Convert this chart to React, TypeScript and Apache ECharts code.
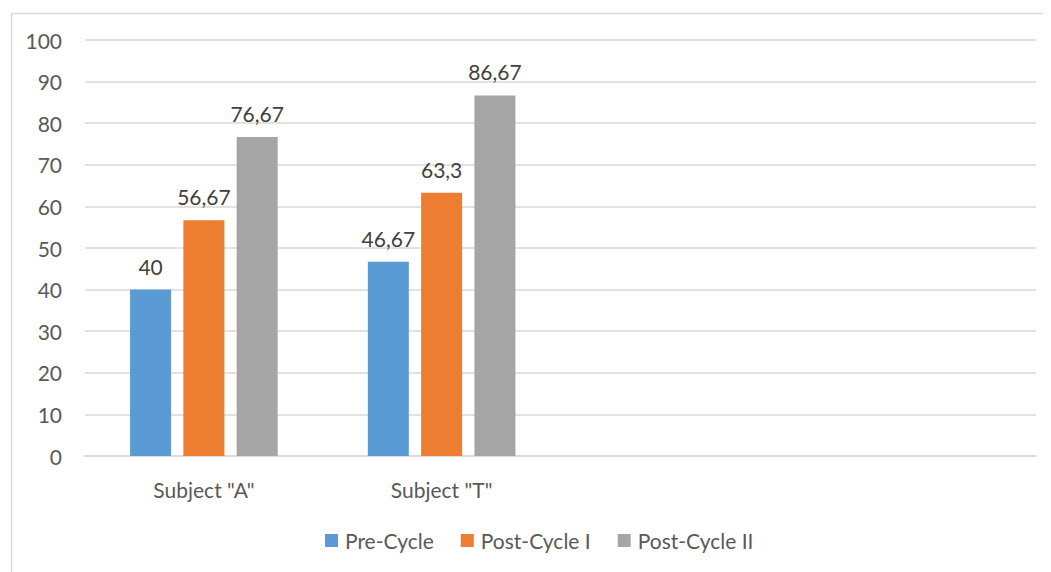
import React, { useEffect, useRef } from "react";
import * as echarts from "echarts";

const categories = ['Subject "A"', 'Subject "T"', "", ""];
const seriesNames = ["Pre-Cycle", "Post-Cycle I", "Post-Cycle II"];
const preCycle = [40, 46.67, null, null];
const postCycle1 = [56.67, 63.3, null, null];
const postCycle2 = [76.67, 86.67, null, null];
const colors = ["#5B9BD5", "#ED7D31", "#A5A5A5"];

const FONT = "Lato, 'Open Sans', sans-serif";
const FS = 21;

export default function App() {
  const ref = useRef<HTMLDivElement>(null);
  useEffect(() => {
    if (!ref.current) return;
    const chart = echarts.init(ref.current, undefined, { renderer: "svg" });
    const values = [preCycle, postCycle1, postCycle2];
    chart.setOption({
      animation: false,
      textStyle: { fontFamily: FONT },
      graphic: [
        {
          type: "rect",
          left: 1,
          top: 3,
          shape: { x: 0, y: 0, width: 1200, height: 700 },
          style: { fill: "none", stroke: "#D9D9D9", lineWidth: 1.5 },
          silent: true,
          z: -1,
        },
      ],
      grid: { left: 77, right: 15, top: 32, bottom: 116, containLabel: false },
      legend: {
        left: 312,
        top: 517,
        itemWidth: 13,
        itemHeight: 13,
        itemGap: 27,
        icon: "rect",
        textStyle: { fontSize: FS, color: "#595959", fontFamily: FONT, padding: [0, 0, 0, 2] },
        data: seriesNames,
      },
      xAxis: {
        type: "category",
        data: categories,
        axisLine: { lineStyle: { color: "#D9D9D9", width: 1.5 } },
        axisTick: { show: false },
        axisLabel: { fontSize: FS, color: "#595959", margin: 23, fontFamily: FONT },
      },
      yAxis: {
        type: "value",
        min: 0,
        max: 100,
        interval: 10,
        axisLine: { show: false },
        axisTick: { show: false },
        splitLine: { lineStyle: { color: "#D9D9D9", width: 1.5 } },
        axisLabel: { fontSize: FS, color: "#595959", margin: 23, fontFamily: FONT },
      },
      series: seriesNames.map((name, i) => ({
        name,
        type: "bar",
        data: values[i],
        barWidth: 41,
        barGap: "30%",
        itemStyle: { color: colors[i] },
        label: {
          show: true,
          position: "top",
          distance: 13,
          fontSize: FS,
          color: "#404040",
          fontFamily: FONT,
          formatter: (p: any) => String(p.value).replace(".", ","),
        },
      })),
    });
    return () => chart.dispose();
  }, []);
  return <div ref={ref} style={{ width: 1043, height: 564 }} />;
}
